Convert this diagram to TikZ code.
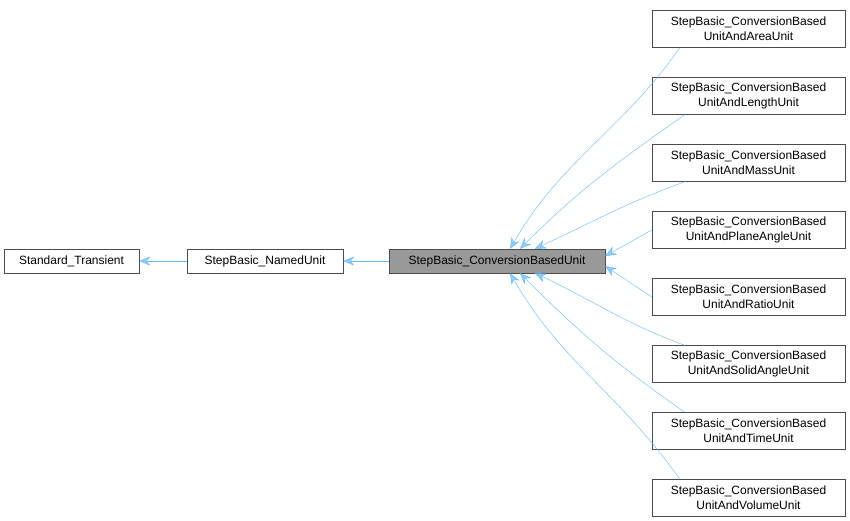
\documentclass[tikz,border=0pt]{standalone}
\usepackage{fontspec}
\setmainfont{Liberation Sans}
\usetikzlibrary{arrows.meta,positioning}
\definecolor{edgeblue}{HTML}{63B8FF}
\definecolor{boxgray}{HTML}{999999}
\tikzset{
  cls/.style={draw=black!70, fill=white, minimum height=24pt, inner sep=2pt, font=\fontsize{12}{15}\selectfont, align=center},
  sub/.style={cls, minimum width=193pt, minimum height=37pt},
  inh/.style={draw=edgeblue, -{Stealth[length=11pt,width=9pt,fill=edgeblue!70]}}
}
\begin{document}
\begin{tikzpicture}[x=1pt,y=1pt]
\useasboundingbox (0,0) rectangle (850,-520);
\node (st) at (71.5,-261) [cls, minimum width=135pt] {Standard\_Transient};
\node (nu) at (265,-261) [cls, minimum width=156pt] {StepBasic\_NamedUnit};
\node (cbu) at (497,-261) [cls, minimum width=216pt, fill=boxgray] {StepBasic\_ConversionBasedUnit};
\foreach \n/\t [count=\i from 0] in {area/Area,length/Length,mass/Mass,plane/PlaneAngle,ratio/Ratio,solid/SolidAngle,time/Time,volume/Volume}
  \node (\n) at (748.5,-29-67*\i) [sub] {StepBasic\_ConversionBased\\UnitAnd\t Unit};
% ends on the base class
\coordinate (t1) at ([xshift=13pt]cbu.north);
\coordinate (t2) at ([xshift=23pt]cbu.north);
\coordinate (t3) at ([xshift=38pt]cbu.north);
\coordinate (t4) at ([yshift=5pt]cbu.east);
\coordinate (t5) at ([yshift=-5pt]cbu.east);
\coordinate (t6) at ([xshift=38pt]cbu.south);
\coordinate (t7) at ([xshift=23pt]cbu.south);
\coordinate (t8) at ([xshift=13pt]cbu.south);
\draw [inh] (nu) -- (st);
\draw [inh] (cbu) -- (nu);
\draw [inh] ([xshift=28pt]area.south west) to[out=235,in=60] (t1);
\draw [inh] ([xshift=33pt]length.south west) to[out=215,in=45] (t2);
\draw [inh] ([xshift=33pt]mass.south west) to[out=200,in=25] (t3);
\draw [inh] (plane.west) -- (t4);
\draw [inh] (ratio.west) -- (t5);
\draw [inh] ([xshift=33pt]solid.north west) to[out=160,in=-25] (t6);
\draw [inh] ([xshift=33pt]time.north west) to[out=145,in=-45] (t7);
\draw [inh] ([xshift=28pt]volume.north west) to[out=125,in=-60] (t8);
\end{tikzpicture}
\end{document}
